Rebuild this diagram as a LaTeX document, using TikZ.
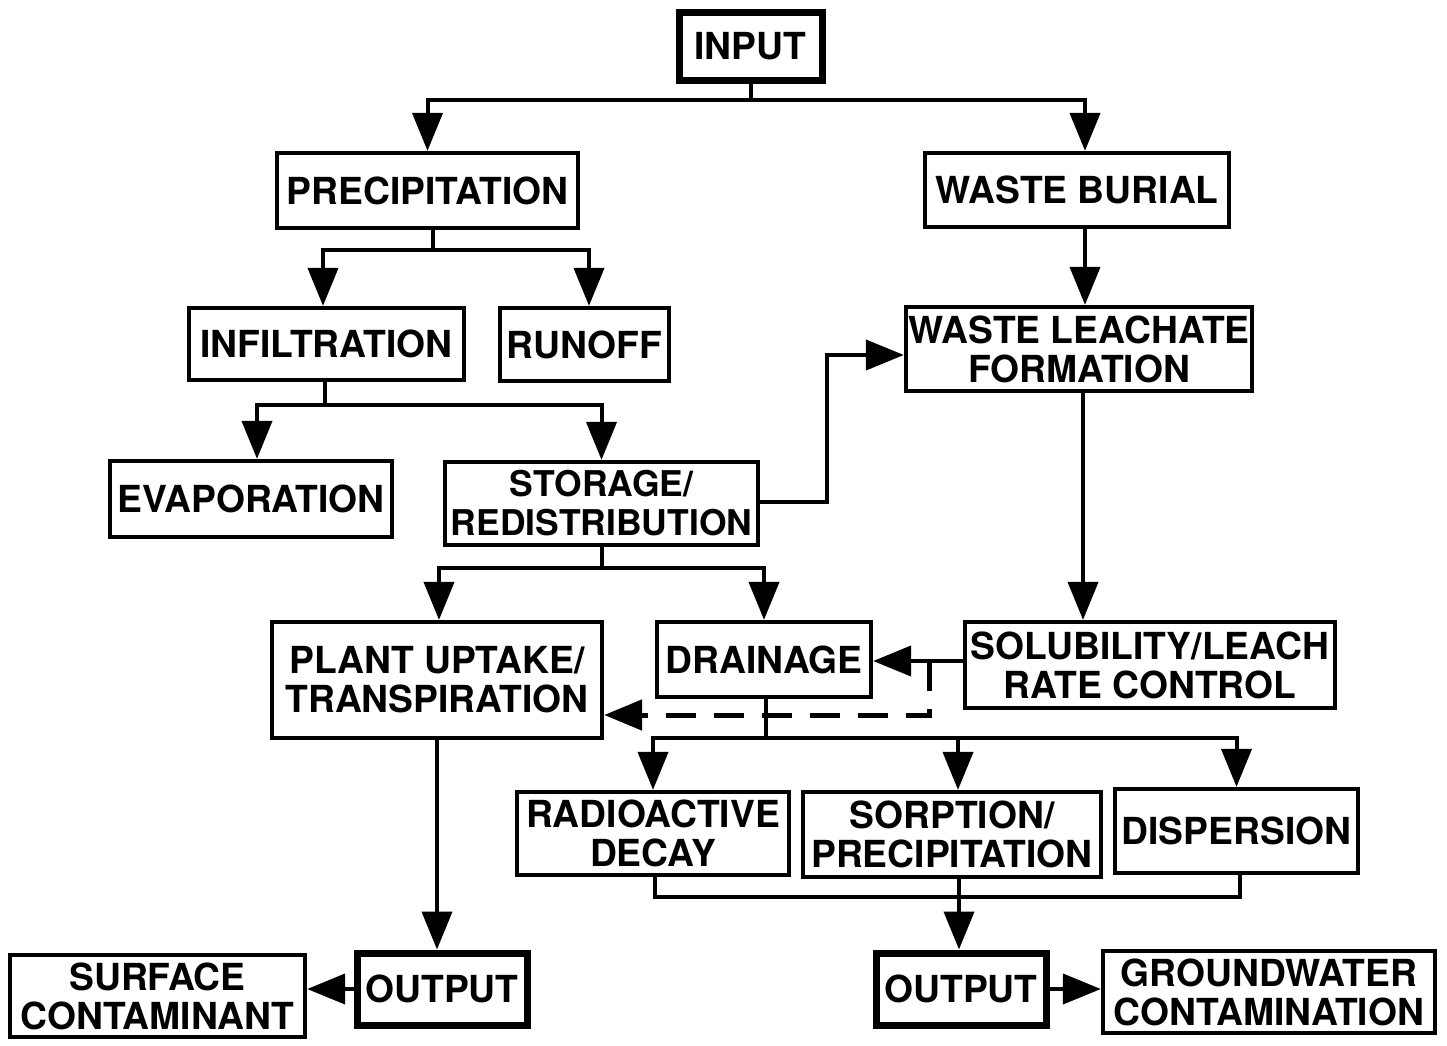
\documentclass[tikz,border=0pt]{standalone}
\usepackage{fontspec}
\setmainfont{TeX Gyre Heros}
\usetikzlibrary{arrows.meta}
\tikzset{
  bx/.style={draw, line width=0.085cm, align=center, inner sep=0pt,
    font=\fontsize{21.2}{22.2}\selectfont\bfseries},
  thickbx/.style={bx, line width=0.14cm},
  sz/.style 2 args={minimum width=#1*0.02cm, minimum height=#2*0.02cm},
  ln/.style={line width=0.08cm},
  arr/.style={ln, -{Triangle[length=0.76cm,width=0.6cm]}},
  dsh/.style={arr, line width=0.1cm, dash pattern=on 0.6cm off 0.36cm}
}
\begin{document}
\begin{tikzpicture}[x=0.02cm,y=-0.02cm]
\useasboundingbox (0,0) rectangle (1447,1045);
% boxes
\node[thickbx, sz={143}{68}] (input) at (750.5,46) {INPUT};
\node[bx, sz={301}{75}] (precip) at (427.5,190.5) {PRECIPITATION};
\node[bx, sz={304}{74}] (wburial) at (1077,190) {WASTE BURIAL};
\node[bx, sz={275}{72}] (infil) at (326.5,344) {INFILTRATION};
\node[bx, sz={169}{73}] (runoff) at (584.5,344.5) {RUNOFF};
\node[bx, sz={346}{84}] (wleach) at (1079,349) {WASTE LEACHATE\\FORMATION};
\node[bx, sz={282}{76}] (evap) at (251,499) {EVAPORATION};
\node[bx, sz={313}{83}, font=\fontsize{20.2}{22.2}\selectfont\bfseries] (storage) at (601.5,503.5) {STORAGE/\\REDISTRIBUTION};
\node[bx, sz={330}{116}] (plant) at (437,680) {PLANT UPTAKE/\\TRANSPIRATION};
\node[bx, sz={214}{75}] (drain) at (764,659.5) {DRAINAGE};
\node[bx, sz={370}{86}] (sol) at (1150,665) {SOLUBILITY/LEACH\\RATE CONTROL};
\node[bx, sz={272}{83}] (radio) at (653,833.5) {RADIOACTIVE\\DECAY};
\node[bx, sz={298}{85}] (sorp) at (952,834.5) {SORPTION/\\PRECIPITATION};
\node[bx, sz={243}{84}] (disp) at (1236.5,831) {DISPERSION};
\node[bx, sz={295}{82}] (surf) at (157.5,996) {SURFACE\\CONTAMINANT};
\node[thickbx, sz={170}{72}] (outL) at (442,989) {OUTPUT};
\node[thickbx, sz={170}{72}] (outR) at (961,989) {OUTPUT};
\node[bx, sz={332}{82}] (gw) at (1269,992) {GROUNDWATER\\CONTAMINATION};
% connectors
\coordinate (j1) at (input.south |- 0,100);
\draw[ln] (input.south) -- (j1);
\draw[arr] (j1) -| (precip.north);
\draw[arr] (j1) -| ([xshift=0.16cm]wburial.north);
\coordinate (j2) at ([xshift=0.11cm]precip.south |- 0,250);
\draw[ln] ([xshift=0.11cm]precip.south) -- (j2);
\draw[arr] (j2) -| ([xshift=-0.07cm]infil.north);
\draw[arr] (j2) -| ([xshift=0.09cm]runoff.north);
\draw[arr] ([xshift=0.16cm]wburial.south) -- ([xshift=0.16cm]wburial.south |- wleach.north);
\coordinate (j3) at ([xshift=-0.03cm]infil.south |- 0,405);
\draw[ln] ([xshift=-0.03cm]infil.south) -- (j3);
\draw[arr] (j3) -| ([xshift=0.12cm]evap.north);
\draw[arr] (j3) -| (storage.north);
\draw[arr] ([yshift=0.03cm]storage.east) -- ++(67,0) |- ([yshift=-0.12cm]wleach.west);
\draw[arr] ([xshift=0.08cm]wleach.south) -- ([xshift=0.08cm]wleach.south |- sol.north);
\coordinate (j4) at (storage.south |- 0,568);
\draw[ln] (storage.south) -- (j4);
\draw[arr] (j4) -| ([xshift=0.04cm]plant.north);
\draw[arr] (j4) -| (drain.north);
\draw[arr] ([yshift=0.08cm]sol.west) -- ([yshift=0.08cm]sol.west -| drain.east);
\coordinate (d1) at ([xshift=-0.66cm,yshift=0.08cm]sol.west);
\coordinate (d2) at (d1 |- 0,715);
\draw[dsh] (d1) -- (d2) -- (d2 -| plant.east);
\coordinate (j5) at ([xshift=0.04cm]drain.south |- 0,738);
\draw[ln] ([xshift=0.04cm]drain.south) -- (j5);
\draw[arr] (j5) -| (radio.north);
\draw[arr] (j5) -| ([xshift=0.12cm]sorp.north);
\draw[arr] (j5) -| (disp.north);
\draw[arr] (plant.south) -- (plant.south |- outL.north);
\draw[ln] ([xshift=0.04cm]radio.south) -- ([xshift=0.04cm]radio.south |- 0,897) -| ([xshift=0.07cm]disp.south);
\draw[arr] ([xshift=0.14cm]sorp.south) -- ([xshift=0.14cm]sorp.south |- outR.north);
\draw[arr] (outL.west) -- (outL.west -| surf.east);
\draw[arr] (outR.east) -- (outR.east -| gw.west);
\end{tikzpicture}
\end{document}
